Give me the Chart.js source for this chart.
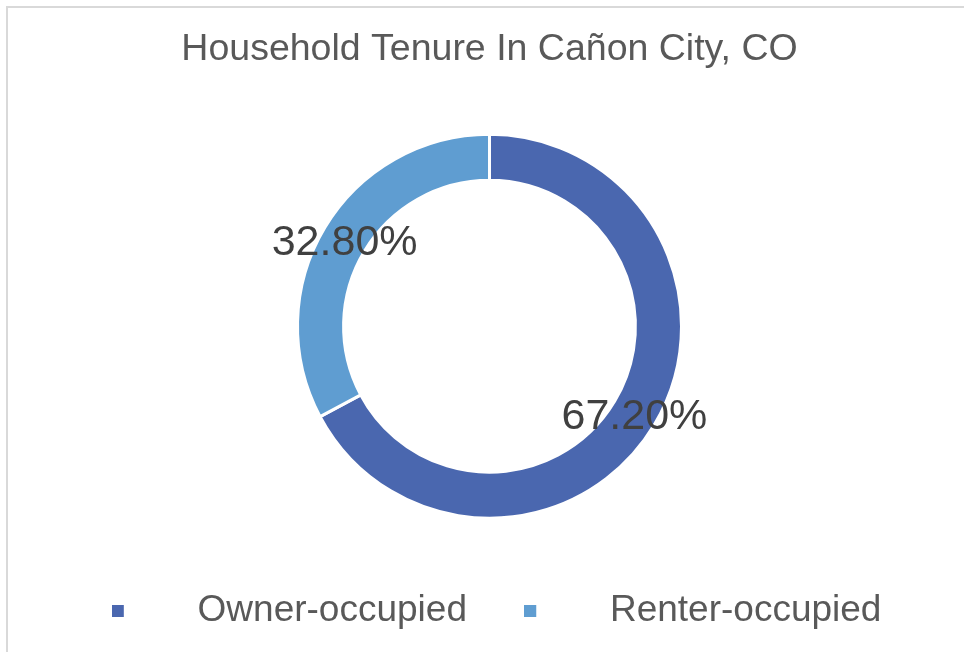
<!DOCTYPE html>
<html>
<head>
<meta charset="utf-8">
<script src="https://cdn.jsdelivr.net/npm/chart.js@4/dist/chart.umd.min.js"></script>
<style>
  html, body { margin: 0; padding: 0; background: #ffffff; }
  #wrap { width: 964px; height: 652px; position: relative; }
</style>
</head>
<body>
<div id="wrap"><canvas id="c" width="964" height="652"></canvas></div>
<script>
const chartTitle = "Household Tenure In Cañon City, CO";
const categories = ["Owner-occupied", "Renter-occupied"];
const shares = [67.2, 32.8];
const percentLabels = ["67.20%", "32.80%"];
const sliceColors = ["#4A67AF", "#5F9DD1"];

const FONT = "'Liberation Sans', Arial, sans-serif";

function makeLegendSwatch(color) {
  const cv = document.createElement('canvas');
  cv.width = 53; cv.height = 12;
  const cx = cv.getContext('2d');
  cx.fillStyle = color;
  cx.fillRect(0, 0, 12, 12);
  return cv;
}
const swatches = sliceColors.map(makeLegendSwatch);

const framePlugin = {
  id: 'frame',
  beforeDraw(chart) {
    const ctx = chart.ctx;
    ctx.save();
    ctx.fillStyle = '#ffffff';
    ctx.fillRect(0, 0, chart.width, chart.height);
    ctx.strokeStyle = '#d9d9d9';
    ctx.lineWidth = 2;
    ctx.beginPath();
    ctx.moveTo(7, chart.height);
    ctx.lineTo(7, 7);
    ctx.lineTo(chart.width, 7);
    ctx.stroke();
    ctx.restore();
  }
};

const valueLabelPlugin = {
  id: 'valueLabels',
  afterDatasetsDraw(chart) {
    const ctx = chart.ctx;
    const meta = chart.getDatasetMeta(0);
    ctx.save();
    ctx.font = "43px " + FONT;
    ctx.fillStyle = '#404040';
    ctx.textAlign = 'center';
    ctx.textBaseline = 'middle';
    meta.data.forEach((arc, i) => {
      const p = arc.getCenterPoint();
      ctx.fillText(percentLabels[i], p.x, p.y + 4);
    });
    ctx.restore();
  }
};

new Chart(document.getElementById('c'), {
  type: 'doughnut',
  data: {
    labels: categories,
    datasets: [{
      data: shares,
      backgroundColor: sliceColors,
      borderColor: '#ffffff',
      borderWidth: 3
    }]
  },
  options: {
    responsive: false,
    animation: false,
    events: [],
    radius: 192,
    cutout: '76%',
    layout: { padding: { left: 15, right: 0, top: 0, bottom: 12.5 } },
    plugins: {
      title: {
        display: true,
        text: chartTitle,
        color: '#595959',
        font: { family: FONT, size: 37.5, weight: 'normal', lineHeight: 1.2 },
        padding: { top: 27.5, bottom: 30.5 }
      },
      legend: {
        display: true,
        position: 'bottom',
        labels: {
          color: '#595959',
          font: { family: FONT, size: 37 },
          usePointStyle: true,
          pointStyleWidth: 81.5,
          padding: 43,
          generateLabels(chart) {
            return categories.map((name, i) => ({
              text: name,
              fillStyle: sliceColors[i],
              strokeStyle: sliceColors[i],
              fontColor: '#595959',
              lineWidth: 0,
              pointStyle: swatches[i],
              hidden: false,
              index: i
            }));
          }
        }
      },
      tooltip: { enabled: false }
    }
  },
  plugins: [framePlugin, valueLabelPlugin]
});
</script>
</body>
</html>
